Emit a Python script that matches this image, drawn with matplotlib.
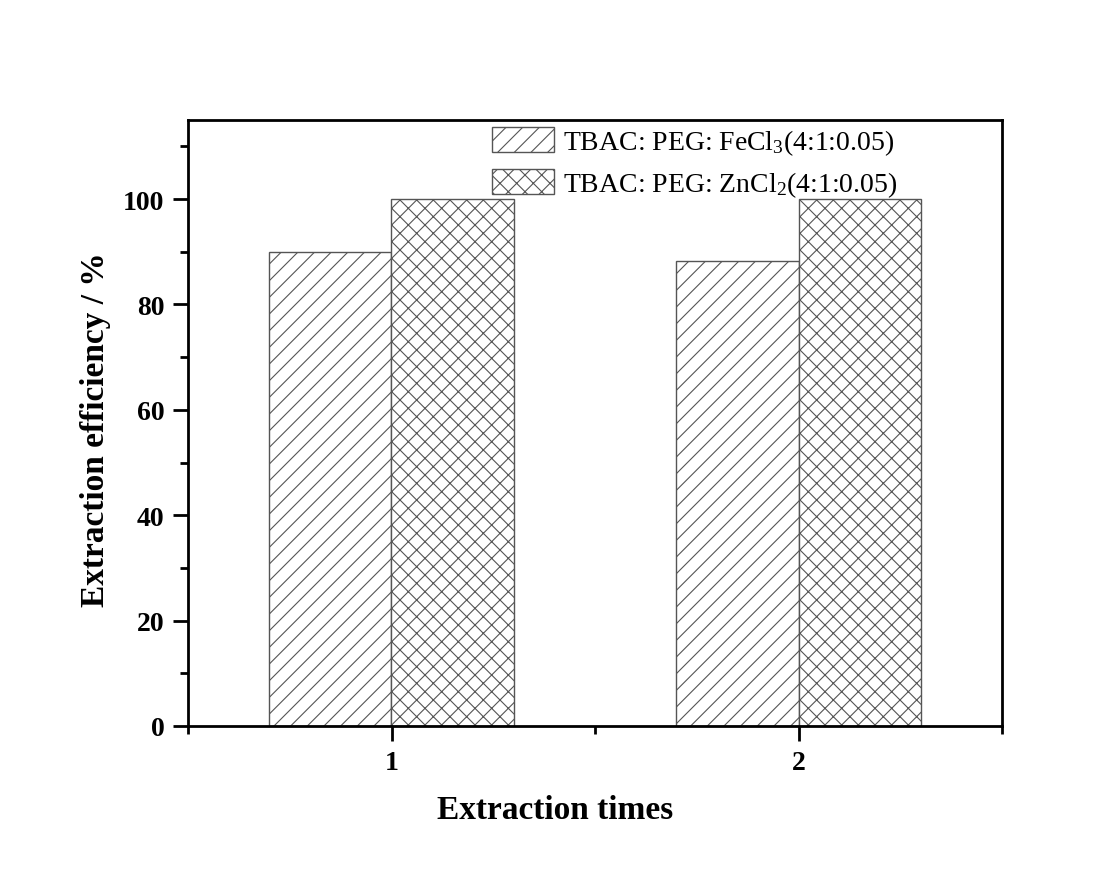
import numpy as np
import matplotlib
matplotlib.use("Agg")
import matplotlib.pyplot as plt
from matplotlib.ticker import MultipleLocator

plt.rcParams['font.family'] = ['Liberation Serif', 'DejaVu Serif']
plt.rcParams['mathtext.fontset'] = 'custom'
plt.rcParams['mathtext.rm'] = 'Liberation Serif'
plt.rcParams['mathtext.it'] = 'Liberation Serif:italic'
plt.rcParams['mathtext.bf'] = 'Liberation Serif:bold'
plt.rcParams['hatch.linewidth'] = 0.8
plt.rcParams['hatch.color'] = '#555555'

times = [1, 2]
fecl3 = [90.0, 88.2]
zncl2 = [100.0, 100.0]
labels = ["TBAC: PEG: FeCl$_\\mathrm{3}$(4:1:0.05)", "TBAC: PEG: ZnCl$_\\mathrm{2}$(4:1:0.05)"]

x = np.array(times, dtype=float)
w = 0.3

fig = plt.figure(figsize=(11.02, 8.79), dpi=100)
ax = fig.add_axes([188/1102, 1-727/879, (1002-188)/1102, (727-121)/879])

ax.bar(x - w/2, fecl3, w, facecolor='white', edgecolor='#555555', hatch='//', linewidth=1.0, label=labels[0])
ax.bar(x + w/2, zncl2, w, facecolor='white', edgecolor='#555555', hatch='xx', linewidth=1.0, label=labels[1])

ax.set_xlim(0.5, 2.5)
ax.set_ylim(0, 115)
ax.set_xticks(times)
ax.set_xticklabels([str(t) for t in times])
ax.xaxis.set_minor_locator(MultipleLocator(0.5))
ax.yaxis.set_major_locator(MultipleLocator(20))
ax.yaxis.set_minor_locator(MultipleLocator(10))
ax.tick_params(axis='both', which='major', direction='out', length=11, width=2, labelsize=20, pad=6)
ax.tick_params(axis='both', which='minor', direction='out', length=6, width=2)
for lab in ax.get_xticklabels() + ax.get_yticklabels():
    lab.set_fontweight('bold')
for s in ax.spines.values():
    s.set_linewidth(2)

ax.set_xlabel("Extraction times", fontsize=24, fontweight='bold')
ax.set_ylabel("Extraction efficiency / %", fontsize=24, fontweight='bold')
ax.xaxis.set_label_coords((555-188)/814, -0.112)
ax.yaxis.set_label_coords((111-188)/814, 0.49)

leg = ax.legend(loc='upper left', bbox_to_anchor=(0.37, 0.993), frameon=False, fontsize=20,
                handlelength=2.25, handleheight=1.0, handletextpad=0.3, labelspacing=0.45,
                borderaxespad=0.0, borderpad=0.1)

fig.savefig("out.png", dpi=100)
